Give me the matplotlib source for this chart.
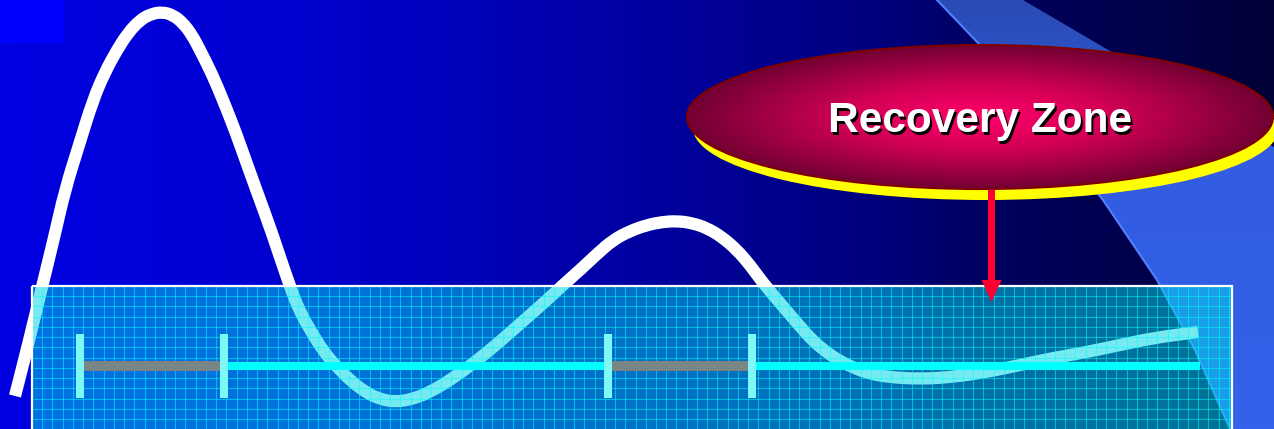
import matplotlib
matplotlib.use("Agg")
import matplotlib.pyplot as plt
import numpy as np
from matplotlib.colors import LinearSegmentedColormap
from matplotlib.patches import Rectangle, Ellipse, Polygon, FancyArrow, PathPatch
from matplotlib.path import Path

# white response curve (canvas units, y grows downward)
curve_x = [15, 28, 42, 54, 65, 79, 93, 105, 117, 128, 140, 151, 162, 173, 183, 192,
           200, 212, 223, 236, 248, 260, 272, 290, 300, 312, 324, 337, 352, 367, 380,
           395, 413, 430, 447, 463, 480, 497, 513, 530, 547, 563, 580, 597, 613, 630,
           647, 662, 677, 692, 707, 722, 737, 750, 763, 780, 797, 812, 825, 838, 852,
           867, 887, 920, 953, 987, 1020, 1053, 1087, 1120, 1153, 1198]
curve_y = [396, 345, 287, 238, 190, 145, 100, 72, 50, 33, 20, 14, 12, 15, 23, 35,
           50, 74, 100, 133, 167, 200, 233, 287, 312, 333, 352, 367, 382, 393, 399,
           402, 399, 392, 382, 371, 358, 344, 330, 315, 300, 285, 270, 254, 240, 231,
           225, 222, 221, 223, 228, 237, 250, 265, 283, 303, 323, 340, 351, 360, 367,
           373, 377, 379, 377, 372, 365, 358, 352, 345, 338, 332]

# timeline
timeline_start, timeline_end = 84, 1200
tick_x = [80, 224, 608, 752]
gray_spans = [(84, 220), (608, 752)]

label = "Recovery Zone"
arrow_x = 991.5

W, H = 1274, 429
fig = plt.figure(figsize=(W / 100, H / 100), dpi=100)
ax = fig.add_axes([0, 0, 1, 1])
ax.set_xlim(0, W)
ax.set_ylim(H, 0)
ax.axis("off")

# background: blue fading to navy from left to right
bg_cmap = LinearSegmentedColormap.from_list("bg", [
    (0.0, (0, 0, 225 / 255)),
    (0.24, (0, 0, 205 / 255)),
    (0.44, (0, 0, 172 / 255)),
    (0.69, (0, 0, 125 / 255)),
    (0.76, (0, 0, 100 / 255)),
    (1.0, (0, 0, 55 / 255)),
])
ax.imshow(np.linspace(0, 1, 512)[None, :], cmap=bg_cmap, aspect="auto",
          extent=[0, W, H, 0], zorder=0)
ax.add_patch(Rectangle((0, 0), 64, 43, color=(0, 0, 1), lw=0, zorder=0.5))

# lighter swoosh on the right
edge = [(937, 0), (980, 45), (1040, 120), (1103, 200), (1157, 280), (1195, 350), (1230, 429)]
band = Polygon(edge + [(W + 5, H), (W + 5, 150), (1023, 0)], closed=True,
               facecolor="none", edgecolor="none")
ax.add_patch(band)
band_cmap = LinearSegmentedColormap.from_list("band", [
    (0.0, (42 / 255, 75 / 255, 180 / 255)),
    (0.35, (50 / 255, 92 / 255, 225 / 255)),
    (1.0, (52 / 255, 98 / 255, 235 / 255)),
])
im = ax.imshow(np.linspace(0, 1, 256)[:, None], cmap=band_cmap, aspect="auto",
               extent=[0, W, H, 0], zorder=1)
im.set_clip_path(band)
ex, ey = zip(*edge)
ax.plot(ex, ey, color=(80 / 255, 130 / 255, 1), lw=1.5, zorder=1.2)

# curve sits under the translucent panel; quadratic segments through the
# midpoints keep the stroke smooth
pts = np.column_stack([curve_x, curve_y]).astype(float)
mids = (pts[:-1] + pts[1:]) / 2
verts = [pts[0], mids[0]]
codes = [Path.MOVETO, Path.LINETO]
for i in range(1, len(pts) - 1):
    verts += [pts[i], mids[i]]
    codes += [Path.CURVE3, Path.CURVE3]
verts.append(pts[-1])
codes.append(Path.LINETO)
ax.add_patch(PathPatch(Path(verts, codes), facecolor="none", edgecolor="white",
                       lw=8.8, capstyle="butt", joinstyle="round", zorder=2))

# translucent grid panel
px0, px1, py0 = 32, 1232, 286
ax.add_patch(Rectangle((px0, py0), px1 - px0, H + 20 - py0, facecolor=(0, 0.84, 0.9),
                       alpha=0.53, edgecolor="none", zorder=3))
step = 10.23
for gx in np.arange(px0 + step, px1, step):
    ax.plot([gx, gx], [py0, H + 5], color=(0, 1, 1), lw=0.8, alpha=0.5, zorder=3.1)
for gy in np.arange(py0 + step, H + 5, step):
    ax.plot([px0, px1], [gy, gy], color=(0, 1, 1), lw=0.8, alpha=0.5, zorder=3.1)
ax.add_patch(Rectangle((px0, py0), px1 - px0, H + 20 - py0, facecolor="none",
                       edgecolor="white", lw=1.6, zorder=3.2))

# timeline with shaded intervals and end ticks
ax.plot([timeline_start, timeline_end], [366, 366], color=(0, 1, 1), lw=5.8,
        solid_capstyle="butt", zorder=4)
for s, e in gray_spans:
    ax.add_patch(Rectangle((s, 361), e - s, 10, facecolor=(0.5, 0.5, 0.5), alpha=0.95,
                           edgecolor="none", zorder=4.1))
for tx in tick_x:
    ax.add_patch(Rectangle((tx - 4, 334), 8, 64, facecolor=(0.5, 0.97, 0.97),
                           edgecolor="none", zorder=4.2))

# callout ellipse with yellow shadow and radial shading
cx, cy, a, b = 980, 117, 293, 72
ax.add_patch(Ellipse((cx + 6, cy + 11), 2 * a, 2 * b, facecolor=(1, 1, 0),
                     edgecolor="none", zorder=5))
oval = Ellipse((cx, cy), 2 * a, 2 * b, facecolor="none", edgecolor="none", zorder=5.1)
ax.add_patch(oval)
gx_, gy_ = np.meshgrid(np.linspace(cx - a, cx + a, 400), np.linspace(cy - b, cy + b, 120))
r = np.clip(np.sqrt(((gx_ - cx) / a) ** 2 + ((gy_ - cy) / b) ** 2), 0, 1)
oval_cmap = LinearSegmentedColormap.from_list("oval", [
    (0.0, (1.0, 0.0, 0.42)),
    (0.45, (0.82, 0.0, 0.33)),
    (1.0, (0.45, 0.0, 0.2)),
])
im2 = ax.imshow(r, cmap=oval_cmap, aspect="auto", extent=[cx - a, cx + a, cy + b, cy - b],
                zorder=5.2, interpolation="bilinear")
im2.set_clip_path(oval)
ax.add_patch(Ellipse((cx, cy), 2 * a, 2 * b, facecolor="none",
                     edgecolor=(0.5, 0, 0), lw=1.5, zorder=5.3))

ax.text(cx + 2.5, 132 + 2.5, label, color="black", fontsize=30.5, fontweight="bold",
        family="Liberation Sans", ha="center", va="baseline", zorder=6)
ax.text(cx, 132, label, color="white", fontsize=30.5, fontweight="bold",
        family="Liberation Sans", ha="center", va="baseline", zorder=6.1)

# pointer down into the panel
ax.add_patch(FancyArrow(arrow_x, 190, 0, 112, width=7, head_width=20, head_length=22,
                        length_includes_head=True, color=(1, 0, 0.2), lw=0, zorder=5.05))

fig.savefig("out.png", dpi=100)
plt.close(fig)
